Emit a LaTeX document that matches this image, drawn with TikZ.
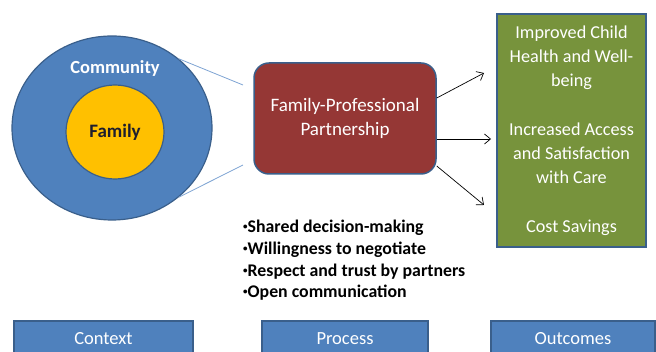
\documentclass[tikz,border=0pt]{standalone}
\usepackage{fontspec}
\setmainfont{Carlito}
\usepackage{tikz}
\usetikzlibrary{positioning, calc, arrows.meta, shapes.geometric}

\definecolor{ringblue}{HTML}{4F81BD}
\definecolor{edgeblue}{HTML}{3A5F8B}
\definecolor{famgold}{HTML}{FFC000}
\definecolor{partred}{HTML}{953735}
\definecolor{outgreen}{HTML}{77933C}
\definecolor{linkblue}{HTML}{7EA3D3}

% small raised bullet for the list
\newcommand{\listdot}{\raisebox{0.35ex}{\fontsize{9}{9}\selectfont•}}

\begin{document}
\begin{tikzpicture}[x=1pt, y=-1pt,
    ring/.style={ellipse, draw=edgeblue, line width=1.2pt, inner sep=0pt},
    stagebox/.style={draw=edgeblue, line width=1.5pt, fill=ringblue},
    stagetext/.style={text=white, font=\fontsize{18.5}{22}\selectfont},
    flow/.style={-{Straight Barb[length=6pt, width=10pt]}, black, line width=0.7pt}]
        % Page frame
        \useasboundingbox (0,0) rectangle (656,352);
        \clip (0,0) rectangle (656,352);

        % Draw context circles
        \node[ring, fill=ringblue, minimum width=200pt, minimum height=184pt] (community) at (112,128) {};
        \node[ring, fill=famgold, minimum width=98pt, minimum height=94pt] (family) at (115,132)
            {\fontsize{19}{22}\selectfont\bfseries\color[HTML]{1E1E2E}Family};
        \node[text=white, font=\fontsize{18.5}{22}\selectfont\bfseries] (commlabel) at (115,68) {Community};

        % Draw partnership box
        \node[draw=edgeblue, line width=1.5pt, fill=partred, rounded corners=15pt,
              minimum width=182pt, minimum height=111pt, text=white, align=center,
              font=\fontsize{19}{24}\selectfont] (fpp) at (345,118.5) {Family-Professional\\Partnership};

        % Zoom lines from circle to box
        \coordinate (zt) at (243,85);
        \coordinate (zb) at (243,165);
        \draw[linkblue, line width=0.8pt] (community.46) -- (zt);
        \draw[linkblue, line width=0.8pt] (community.-46) -- (zb);

        % Draw outcomes box
        \node[draw=edgeblue, line width=2pt, fill=outgreen, minimum width=149pt, minimum height=233pt] (outbox) at (571.5,130.5) {};
        \node[text=white, align=center, font=\fontsize{18.2}{24.3}\selectfont] (outtext) at (outbox.center)
            {Improved Child\\Health and Well-\\being\\[24.3pt]Increased Access\\and Satisfaction\\with Care\\[24.3pt]Cost Savings};

        % Arrows to outcomes
        \coordinate (oa) at (484,73);
        \coordinate (ob) at (491,139);
        \coordinate (oc) at (484,205);
        \draw[flow] ($(fpp.east)+(0,-20.5)$) -- (oa);
        \draw[flow] ($(fpp.east)+(0,20.5)$) -- (ob);
        \draw[flow] ($(fpp.east)+(0,47.5)$) -- (oc);

        % Process list
        \node[anchor=north west, align=left, inner sep=0pt, font=\fontsize{17.8}{21.7}\selectfont\bfseries] (traits) at (243,220)
            {\listdot Shared decision-making\\\listdot Willingness to negotiate\\\listdot Respect and trust by partners\\\listdot Open communication};

        % Stage labels along the bottom
        \node[stagebox, minimum width=179pt, minimum height=40pt] (context) at (103.5,341) {};
        \node[stagebox, minimum width=166pt, minimum height=40pt] (process) at (345,341) {};
        \node[stagebox, minimum width=164pt, minimum height=40pt] (outcomes) at (573,341) {};
        \node[stagetext] at (context.center |- 0,339) {Context};
        \node[stagetext] at (process.center |- 0,339) {Process};
        \node[stagetext] at (outcomes.center |- 0,339) {Outcomes};
\end{tikzpicture}
\end{document}
